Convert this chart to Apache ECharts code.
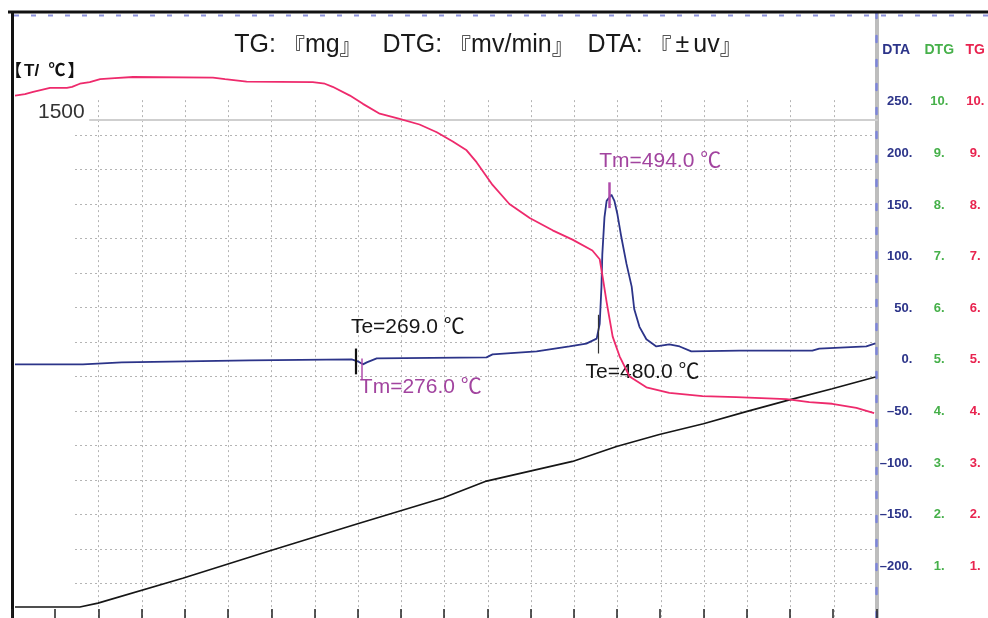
<!DOCTYPE html>
<html><head><meta charset="utf-8">
<script src="https://cdn.jsdelivr.net/npm/echarts@6/dist/echarts.min.js"></script>
<style>html,body{margin:0;padding:0;background:#fff}#c{width:988px;height:618px}</style>
</head><body><div id="c"></div>
<script>
const FONT = '"Liberation Sans", Arial, "Noto Sans CJK JP", sans-serif';
const CJK = '"Noto Sans CJK JP", "Noto Sans CJK SC", sans-serif';
// Title: TG: 『mg』   DTG: 『mv/min』  DTA: 『±uv』
const titleParts = [['t','TG: '],['b','『'],['t','mg'],['b','』'],['t','   DTG: '],['b','『'],['t','mv/min'],['b','』'],['t','  DTA: '],['b','『'],['p','±'],['t','uv'],['b','』']];
// Left axis name: 【T/ ℃】
const tempNameParts = [['b','【'],['t','T/  ℃'],['b','】']];

// time axis (grid divisions)
const timeMin = 0, timeMax = 20;

// Temperature curve T (°C)
const tempTime = [0.07,1.57,1.99,3.95,5.99,7.98,9.97,10.98,12.97,13.99,14.98,16.00,16.99,17.99,18.98,19.98];
const tempC    = [32,32,43,115,195,272,347,396,453,496,531,562,597,631,663,697];

// TG curve (mg)
const tgTime = [0.07,0.30,0.49,0.88,1.27,1.39,1.57,1.80,2.04,2.38,2.80,4.65,4.93,5.43,6.96,7.24,7.42,7.82,8.12,8.51,8.97,9.43,9.83,10.20,10.52,10.75,11.12,11.51,11.98,12.51,12.97,13.43,13.60,13.67,13.76,13.90,14.06,14.29,14.68,15.21,15.98,16.76,17.92,18.45,18.98,19.54,19.95];
const tgMg   = [10.12,10.15,10.19,10.27,10.27,10.29,10.35,10.38,10.44,10.46,10.48,10.47,10.44,10.39,10.38,10.35,10.29,10.12,9.96,9.77,9.67,9.56,9.41,9.23,9.06,8.83,8.39,8.02,7.75,7.51,7.33,7.12,6.95,6.60,6.12,5.45,5.07,4.68,4.47,4.36,4.30,4.28,4.24,4.18,4.15,4.07,3.97];

// DTA curve (±uV)
const dtaTime = [0.07,1.64,1.66,2.54,2.57,5.50,5.53,7.86,8.00,8.12,8.21,8.44,10.98,11.12,12.14,12.90,13.29,13.53,13.60,13.64,13.66,13.71,13.76,13.87,13.94,14.01,14.10,14.22,14.34,14.40,14.52,14.68,14.91,15.21,15.45,15.72,16.83,18.52,18.68,19.77,19.98];
const dtaUv   = [-4.3,-4.3,-2.4,-2.4,-0.5,-0.5,0.5,0.5,-1.4,-4.3,-2.4,1.4,2.4,5.3,8.2,13.0,15.8,20.6,35,70.5,102,138,154,160,154,141,119,93,71,49,32,20,13,15,13,8.2,9,9,11,13,16];

// Axis ranges and tick labels
const tempRange = [0, 1750], tempStep = 100, tempLabelled = [1500];
const dtaRange = [-250, 336], dtaStep = 50;
const dtaTicks = [-200,-150,-100,-50,0,50,100,150,200,250];
const dtgRange = [0, 11.72], dtgTicks = [1,2,3,4,5,6,7,8,9,10];
const tgRange = [0, 11.72], tgTicks = [1,2,3,4,5,6,7,8,9,10];

// Annotations
const annoText  = ['Te=269.0 ℃','Tm=276.0 ℃','Te=480.0 ℃','Tm=494.0 ℃'];
const annoTime  = [7.95, 8.09, 13.57, 13.83];
const annoFrom  = [11, 1.4, 43.7, 172];
const annoTo    = [-14, -18.7, 6.2, 147];
const annoLabX  = [9.16, 9.46, 14.59, 15.0];
const annoLabY  = [32, -26.4, -12, 192.4];

const BLACK = '#161616', MAGENTA = '#a2449f', NAVY = '#2c3489', PINK = '#ee2a6c', GREEN = '#46b04a', TGRED = '#e8234f';
const annoColor = [BLACK, MAGENTA, BLACK, MAGENTA];
const annoLineColor = ['#111', '#b04cab', '#333', '#b04cab'];
const annoLineWidth = [2.2, 1.5, 1.2, 2.5];

const pairs = (xs, ys) => xs.map((x, i) => [x, ys[i]]);
const richText = parts => parts.map(p => '{' + p[0] + '|' + p[1] + '}').join('');
const dash = '–';

const dotted = {color: '#b4b4b4', width: 1, type: [2, 3]};
const hidden = {show: false};

const chart = echarts.init(document.getElementById('c'));
chart.setOption({
  animation: false,
  backgroundColor: '#fff',
  title: {
    text: richText(titleParts),
    left: 488, top: 33, textAlign: 'center', padding: 0,
    textStyle: {
      fontSize: 25, fontWeight: 'normal', color: '#1a1a1a', fontFamily: FONT,
      rich: {
        t: {fontSize: 25, color: '#1a1a1a', fontFamily: FONT},
        b: {fontSize: 22, color: '#1a1a1a', fontFamily: CJK},
        p: {fontSize: 25, color: '#1a1a1a', fontFamily: FONT, padding: [0, 4, 0, 4]}
      }
    }
  },
  grid: [
    {left: 12, top: 13, width: 865, height: 610},
    {left: 75, top: 135, width: 802, height: 488},
    {left: 90, top: 100.14, width: 787, height: 20},
    {left: 98.5, top: 100.14, width: 778.5, height: 522.86}
  ],
  xAxis: [
    {gridIndex: 0, type: 'value', min: timeMin, max: timeMax, interval: 1,
     axisLine: hidden, splitLine: hidden, axisLabel: hidden,
     axisTick: {show: true, inside: true, length: 9, lineStyle: {color: '#222', width: 1.5}}},
    {gridIndex: 1, type: 'value', min: 0, max: 1, show: false},
    {gridIndex: 2, type: 'value', min: 0, max: 1, position: 'top',
     axisLine: {show: true, lineStyle: {color: '#cfcfcf', width: 2}},
     axisTick: hidden, axisLabel: hidden, splitLine: hidden},
    {gridIndex: 3, type: 'value', min: 0, max: 18, interval: 1,
     axisLine: hidden, axisTick: hidden, axisLabel: hidden,
     splitLine: {show: true, lineStyle: dotted}}
  ],
  yAxis: [
    {gridIndex: 0, type: 'value', position: 'left', min: tempRange[0], max: tempRange[1], interval: tempStep,
     name: richText(tempNameParts), nameLocation: 'end', nameGap: -58,
     nameTextStyle: {align: 'left', verticalAlign: 'middle', padding: [0, 0, 0, -7], fontSize: 16, fontWeight: 'bold', color: '#111', fontFamily: FONT,
       rich: {
         b: {fontSize: 17, fontWeight: 'bold', color: '#111', fontFamily: CJK},
         t: {fontSize: 17, fontWeight: 'bold', color: '#111', fontFamily: FONT, padding: [0, 2, 0, 2]}
       }},
     axisLine: {show: true, lineStyle: {color: '#111', width: 3}},
     axisTick: hidden, splitLine: hidden,
     axisLabel: {show: true, inside: true, margin: 26, verticalAlign: 'top', lineHeight: 25,
       fontSize: 21, color: '#333', fontFamily: FONT,
       formatter: v => tempLabelled.includes(v) ? String(v) : ''}},
    {gridIndex: 0, type: 'value', position: 'right', offset: 0, min: dtaRange[0], max: dtaRange[1], interval: dtaStep,
     name: 'DTA', nameLocation: 'end', nameGap: -37,
     nameTextStyle: {align: 'left', verticalAlign: 'middle', padding: [0, 0, 0, 6], fontSize: 14, fontWeight: 'bold', color: NAVY, fontFamily: FONT},
     axisLine: {show: true, lineStyle: {color: '#bdbdbd', width: 4}},
     axisTick: hidden, splitLine: hidden,
     axisLabel: {show: true, margin: 36, align: 'right', fontSize: 13, fontWeight: 'bold', color: NAVY, fontFamily: FONT,
       formatter: v => dtaTicks.includes(v) ? String(v).replace('-', dash) + '.' : ''}},
    {gridIndex: 0, type: 'value', position: 'right', offset: 63, min: dtgRange[0], max: dtgRange[1], interval: 1,
     name: 'DTG', nameLocation: 'end', nameGap: -37,
     nameTextStyle: {align: 'center', verticalAlign: 'middle', fontSize: 14, fontWeight: 'bold', color: GREEN, fontFamily: FONT},
     axisLine: hidden, axisTick: hidden, splitLine: hidden,
     axisLabel: {show: true, margin: 0, align: 'center', fontSize: 13, fontWeight: 'bold', color: GREEN, fontFamily: FONT,
       formatter: v => dtgTicks.includes(v) ? v + '.' : ''}},
    {gridIndex: 0, type: 'value', position: 'right', offset: 99, min: tgRange[0], max: tgRange[1], interval: 1,
     name: 'TG', nameLocation: 'end', nameGap: -37,
     nameTextStyle: {align: 'center', verticalAlign: 'middle', fontSize: 14, fontWeight: 'bold', color: TGRED, fontFamily: FONT},
     axisLine: hidden, axisTick: hidden, splitLine: hidden,
     axisLabel: {show: true, margin: 0, align: 'center', fontSize: 13, fontWeight: 'bold', color: TGRED, fontFamily: FONT,
       formatter: v => tgTicks.includes(v) ? v + '.' : ''}},
    {gridIndex: 0, type: 'value', position: 'right', offset: 0, min: 0, max: 1,
     axisLine: {show: true, lineStyle: {color: '#7e86da', width: 2.5, type: [6, 18]}},
     axisTick: hidden, axisLabel: hidden, splitLine: hidden},
    {gridIndex: 1, type: 'value', min: 0, max: 1400, interval: 100,
     axisLine: hidden, axisTick: hidden, axisLabel: hidden,
     splitLine: {show: true, lineStyle: dotted}},
    {gridIndex: 2, type: 'value', show: false},
    {gridIndex: 3, type: 'value', show: false}
  ],
  graphic: [
    {type: 'line', shape: {x1: 8, y1: 12, x2: 988, y2: 12}, style: {stroke: '#111', lineWidth: 3}, z: 100},
    {type: 'line', shape: {x1: 14, y1: 15.5, x2: 988, y2: 15.5}, style: {stroke: '#8d93dd', lineWidth: 2, lineDash: [5, 12]}, z: 100}
  ],
  series: [
    {name: 'T', type: 'line', xAxisIndex: 0, yAxisIndex: 0, data: pairs(tempTime, tempC),
     showSymbol: false, lineStyle: {color: BLACK, width: 1.6}, z: 3},
    {name: 'DTA', type: 'line', xAxisIndex: 0, yAxisIndex: 1, data: pairs(dtaTime, dtaUv),
     showSymbol: false, lineStyle: {color: NAVY, width: 1.8}, z: 4,
     markLine: {
       symbol: 'none', silent: true, animation: false,
       label: {show: false},
       data: annoTime.map((t, i) => [
         {coord: [t, annoFrom[i]], lineStyle: {color: annoLineColor[i], width: annoLineWidth[i], type: 'solid'}},
         {coord: [t, annoTo[i]]}
       ])
     },
     markPoint: {
       symbol: 'circle', symbolSize: 1, silent: true, animation: false,
       itemStyle: {color: 'rgba(0,0,0,0)'},
       data: annoText.map((txt, i) => ({
         name: txt, coord: [annoLabX[i], annoLabY[i]],
         label: {show: true, position: 'inside', formatter: '{b}', fontSize: 21, color: annoColor[i], fontFamily: FONT}
       }))
     }},
    {name: 'TG', type: 'line', xAxisIndex: 0, yAxisIndex: 3, data: pairs(tgTime, tgMg),
     showSymbol: false, lineStyle: {color: PINK, width: 1.8}, z: 5}
  ]
});
</script></body></html>
